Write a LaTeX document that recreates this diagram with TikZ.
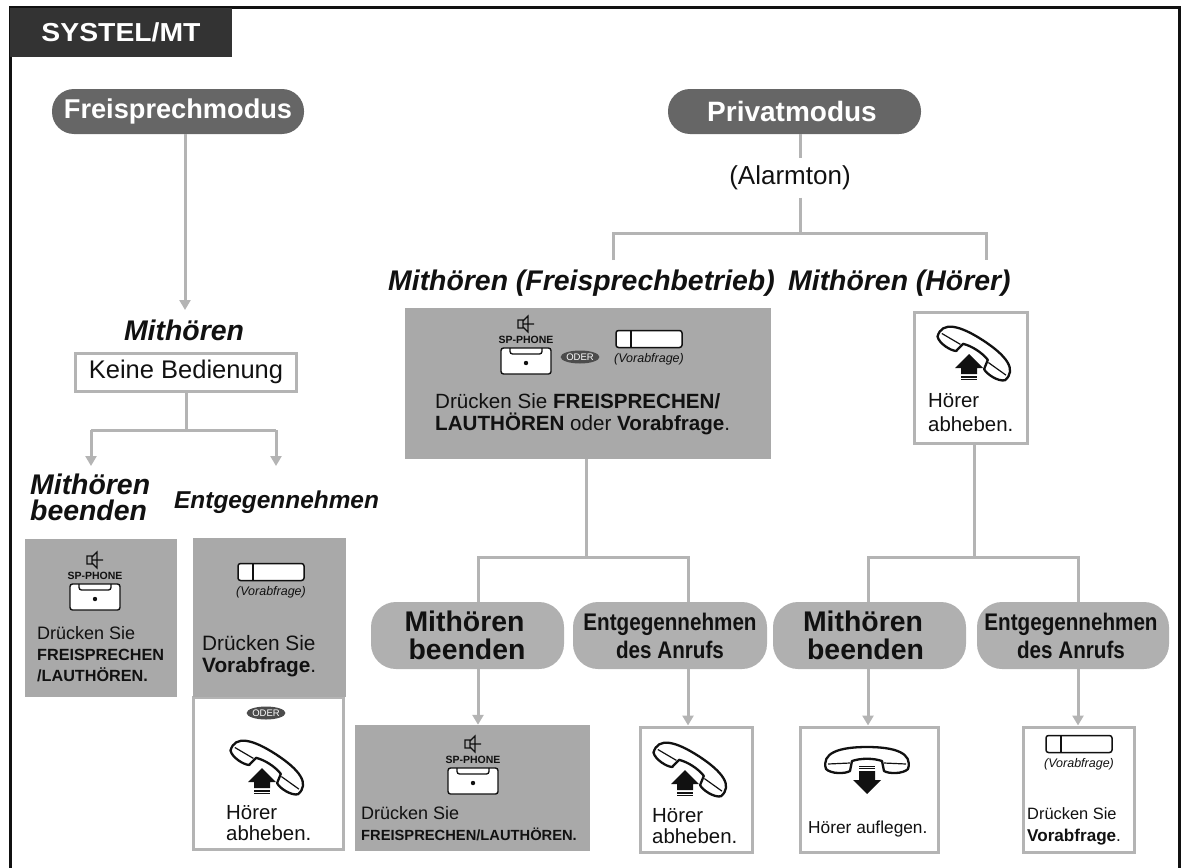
\documentclass[tikz,border=0pt]{standalone}
\usepackage{fontspec}
\usepackage{graphicx}
\setmainfont{Liberation Sans}
\usetikzlibrary{arrows.meta,shapes.geometric,calc}
\definecolor{boxgrey}{HTML}{A9A9A9}
\definecolor{linegrey}{HTML}{B4B4B4}
\definecolor{pilldark}{HTML}{666666}
\definecolor{pilllight}{HTML}{B0B0B0}
\definecolor{ink}{HTML}{111111}
\newcommand{\fsz}[2]{\fontsize{#1}{#2}\selectfont}
\tikzset{
  x=1pt,y=-1pt,
  conn/.style={draw=linegrey,line width=3pt},
  arr/.style={conn,-{Triangle[length=10pt,width=11pt,color=linegrey]}},
  greybox/.style={rectangle,fill=boxgrey,inner sep=0pt},
  whitebox/.style={rectangle,draw=linegrey,line width=3pt,fill=white,inner sep=0pt},
  pilla/.style={rectangle,rounded corners=22pt,fill=pilldark,text=white,inner sep=0pt,font=\bfseries\fsz{27.2}{30}},
  pillb/.style={rectangle,rounded corners=25pt,fill=pilllight,text=ink,inner sep=0pt,align=center,minimum height=67pt},
  head/.style={inner sep=0pt,text=ink,font=\bfseries\itshape\fsz{28.4}{26},align=left},
  txt/.style={inner sep=0pt,anchor=base west,align=left,text=ink},
  spphone/.pic={
    \draw[line width=1.4pt,ink,fill=white,rounded corners=2.5pt] (-25,0) rectangle (25,26);
    \draw[line width=1.3pt,ink,rounded corners=2.5pt] (-16,0) -- (-16,6) -- (16,6) -- (16,0);
    \fill[ink] (0,15) circle (2.2pt);
    \node[inner sep=0pt,text=ink,font=\bfseries\fsz{10.5}{11}] (label) at (0,-8) {SP-PHONE};
    \draw[line width=1.1pt,ink] (-8,-28) rectangle (-3,-20) (-3,-27) -- (2,-32) -- (2,-16) -- (-3,-21) (-3,-24) -- (8,-24);
  },
  holdkey/.pic={
    \draw[line width=1.5pt,ink,fill=white,rounded corners=2.5pt] (-33,-8.5) rectangle (33,8.5);
    \draw[line width=1.5pt,ink] (-18,-8.5) -- (-18,8.5);
    \node[inner sep=0pt,text=ink,font=\itshape\fsz{12.5}{13}] (label) at (0,20) {(Vorabfrage)};
  },
  oderpill/.pic={
    \node[ellipse,fill=black!70,text=white,inner sep=0pt,minimum width=33pt,minimum height=13pt,font=\fsz{9.5}{10}] (label) at (0,0) {ODER};
  },
  phonebody/.pic={
    \draw[line width=2.3pt,ink,fill=white,line join=round]
      (-41,9) .. controls (-46,-7) and (-28,-13) .. (0,-13) .. controls (28,-13) and (46,-7) .. (41,9)
      .. controls (36,14) and (22,14) .. (17,11) -- (15,1) .. controls (6,-2) and (-6,-2) .. (-15,1)
      -- (-17,11) .. controls (-22,14) and (-36,14) .. (-41,9) -- cycle;
    \draw[line width=1.2pt,ink] (-39,4) -- (-17,3) (39,4) -- (17,3);
  },
  phoneup/.pic={
    \pic[rotate=-33,scale=.98] {phonebody};
    \fill[ink] (-7,3) -- (7,17) -- (1,17) -- (1,23) -- (-15,23) -- (-15,17) -- (-21,17) -- cycle;
    \fill[ink] (-15,25.4) rectangle (1,26.6);
    \fill[ink] (-15,27.8) rectangle (1,28.8);
  },
  phonedown/.pic={
    \pic {phonebody};
    \fill[ink] (-8,5.5) rectangle (8,6.7);
    \fill[ink] (-8,8.2) rectangle (8,9.4);
    \fill[ink] (-8,11) rectangle (8,20) (-14,20) -- (14,20) -- (0,34) -- cycle;
  },
}
\begin{document}
\begin{tikzpicture}
\useasboundingbox (0,0) rectangle (1182,867);
% frame and title
\coordinate (frameBL) at (10,870);
\coordinate (frameTL) at (10,8);
\coordinate (frameTR) at (1179,8);
\coordinate (frameBR) at (1179,870);
\draw[line width=3pt,ink] (frameBL) -- (frameTL) -- (frameTR) -- (frameBR);
\node[rectangle,fill=black!80,text=white,inner sep=0pt,minimum width=222pt,minimum height=49pt,font=\bfseries\fsz{26}{28}] (title) at (121,32.5) {\scalebox{1.09}[1]{SYSTEL/MT}};

% left branch
\node[pilla,minimum width=252pt,minimum height=45pt] (free) at (178,111.5) {Freisprechmodus};
\node[head] (mit) at (184,330) {Mithören};
\node[rectangle,draw=linegrey,line width=3pt,minimum width=221pt,minimum height=38pt,inner sep=0pt,text=ink,font=\fsz{25.5}{27}] (keine) at (186,372) {Keine Bedienung};
\node[head,anchor=west] (mb) at (30,497) {Mithören\\beenden};
\node[head,anchor=west,font=\bfseries\itshape\fsz{24.4}{26}] (ent) at (174,502) {Entgegennehmen};
\coordinate (mitTop) at (185,310);
\coordinate (leftJ) at (186,430);
\coordinate (leftA) at (91,430);
\coordinate (leftB) at (276,430);
\coordinate (leftAe) at (91,466);
\coordinate (leftBe) at (276,466);
\draw[arr] (free.south -| mitTop) -- (mitTop);
\draw[conn] (keine.south -| leftJ) -- (leftJ);
\draw[conn] (leftA) -- (leftB);
\draw[arr] (leftA) -- (leftAe);
\draw[arr] (leftB) -- (leftBe);

\node[greybox,minimum width=152pt,minimum height=158pt] (boxA) at (101,618) {};
\pic (spA) at (95,584) {spphone};
\node[txt,font=\fsz{18}{21}] (txtA) at (37,681) {Drücken Sie\\\fontsize{16.2}{21}\bfseries\selectfont FREISPRECHEN\\\fontsize{16.2}{21}\bfseries\selectfont /LAUTHÖREN.};

\node[whitebox,minimum width=150pt,minimum height=152pt] (boxC) at (268.5,773) {};
\node[greybox,minimum width=153pt,minimum height=159pt] (boxB) at (269.5,617.5) {};
\pic (keyB) at (271,572) {holdkey};
\node[txt,font=\fsz{20.8}{22}] (txtB) at (202,672) {Drücken Sie\\\textbf{Vorabfrage}.};
\pic (odA) at (266,713) {oderpill};
\pic (phA) at (269,765) {phoneup};
\node[txt,font=\fsz{20.4}{21}] (txtC) at (226,840) {Hörer\\abheben.};

% right part
\node[pilla,font=\bfseries\fsz{28}{30},minimum width=253pt,minimum height=45pt] (priv) at (794.5,111.5) {\hspace*{-5pt}Privatmodus};
\node[inner sep=0pt,text=ink,minimum height=39pt,font=\fsz{26}{28}] (alarm) at (790,178) {(Alarmton)};
\coordinate (busJ) at (800,233);
\coordinate (busL) at (613,233);
\coordinate (busR) at (986,233);
\coordinate (busLe) at (613,260);
\coordinate (busRe) at (986,260);
\draw[conn] (priv.south -| busJ) -- (alarm.north -| busJ);
\draw[conn] (alarm.south -| busJ) -- (busJ);
\draw[conn,line join=miter] (busLe) -- (busL) -- (busR) -- (busRe);
\node[head,anchor=west] (mf) at (388,283) {Mithören (Freisprechbetrieb)};
\node[head,anchor=west] (mh) at (788,283) {Mithören (Hörer)};

\node[greybox,minimum width=366pt,minimum height=151pt] (boxD) at (588,383.5) {};
\pic (spD) at (526,348) {spphone};
\pic (odD) at (580,357) {oderpill};
\pic (keyD) at (649,339) {holdkey};
\node[txt,font=\fsz{20.6}{22}] (txtD) at (435,430) {Drücken Sie \textbf{FREISPRECHEN/}\\\textbf{LAUTHÖREN} oder \textbf{Vorabfrage}.};

\node[whitebox,minimum width=113pt,minimum height=131pt] (boxE) at (970.5,377.5) {};
\pic (phE) at (976,351) {phoneup};
\node[txt,font=\fsz{20.4}{24}] (txtE) at (928,431) {Hörer\\abheben.};

% pills
\node[pillb,minimum width=193pt,font=\bfseries\fsz{28.4}{28}] (pm1) at (467.5,635.5) {\hspace*{-6pt}Mithören\\\hspace*{-1pt}beenden};
\node[pillb,minimum width=194pt,font=\bfseries\fsz{24}{28}] (pe1) at (670,635.5) {\scalebox{.86}[1]{Entgegennehmen}\\\scalebox{.86}[1]{des Anrufs}};
\node[pillb,minimum width=193pt,font=\bfseries\fsz{28.4}{28}] (pm2) at (869.5,635.5) {\hspace*{-13pt}Mithören\\\hspace*{-8pt}beenden};
\node[pillb,minimum width=192pt,font=\bfseries\fsz{24}{28}] (pe2) at (1073,635.5) {\hspace*{-4pt}\scalebox{.86}[1]{Entgegennehmen}\\\hspace*{-4pt}\scalebox{.86}[1]{des Anrufs}};

% bottom boxes
\node[greybox,minimum width=235pt,minimum height=126pt] (boxF) at (472.5,788) {};
\pic (spF) at (473,768) {spphone};
\node[txt,font=\fsz{18}{21}] (txtF) at (361,840) {Drücken Sie\\\fontsize{14.7}{21}\bfseries\selectfont FREISPRECHEN/LAUTHÖREN.};

\node[whitebox,minimum width=112pt,minimum height=125pt] (boxG) at (696,789.5) {};
\pic (phG) at (692,767) {phoneup};
\node[txt,font=\fsz{20.4}{21}] (txtG) at (652,843) {Hörer\\abheben.};

\node[whitebox,minimum width=138pt,minimum height=125pt] (boxH) at (869,789.5) {};
\pic (phH) at (867,760) {phonedown};
\node[txt,font=\fsz{17.3}{19}] (txtH) at (808,833) {Hörer auflegen.};

\node[whitebox,minimum width=111pt,minimum height=125pt] (boxI) at (1078.5,789.5) {};
\pic (keyI) at (1079,744) {holdkey};
\node[txt,font=\fsz{16.4}{22}] (txtI) at (1027,841) {Drücken Sie\\\fontsize{17.1}{22}\bfseries\selectfont Vorabfrage\mdseries.};

% lower connectors
\coordinate (j1) at (586,557);
\coordinate (j1l) at (478,557);
\coordinate (j1r) at (688,557);
\coordinate (j2) at (974,557);
\coordinate (j2l) at (868,557);
\coordinate (j2r) at (1078,557);
\draw[conn] (boxD.south -| j1) -- (j1);
\draw[conn,line join=miter] (pm1.north -| j1l) -- (j1l) -- (j1r) -- (pe1.north -| j1r);
\draw[conn] (boxE.south -| j2) -- (j2);
\draw[conn,line join=miter] (pm2.north -| j2l) -- (j2l) -- (j2r) -- (pe2.north -| j2r);
\draw[arr] (pm1.south -| j1l) -- (boxF.north -| j1l);
\draw[arr] (pe1.south -| j1r) -- (boxG.north -| j1r);
\draw[arr] (pm2.south -| j2l) -- (boxH.north -| j2l);
\draw[arr] (pe2.south -| j2r) -- (boxI.north -| j2r);
\end{tikzpicture}
\end{document}
